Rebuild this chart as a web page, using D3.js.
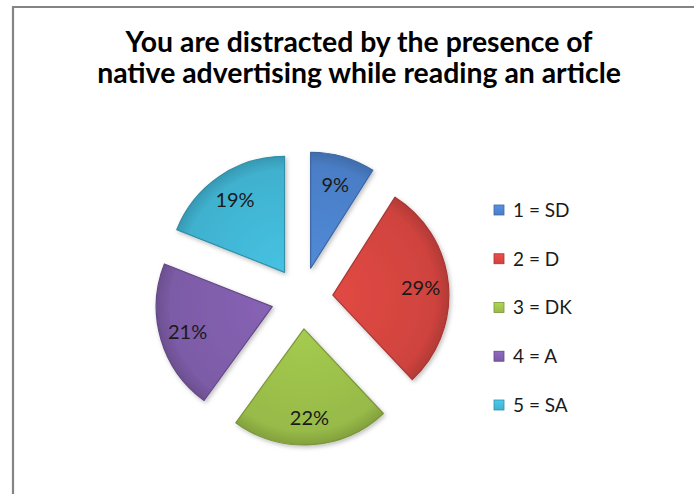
<!DOCTYPE html>
<html lang="en">
<head>
<meta charset="utf-8">
<title>Native advertising pie</title>
<script src="https://cdn.jsdelivr.net/npm/d3@7"></script>
<style>
  body { margin: 0; background: #fff; }
  text { font-family: Lato, "Open Sans", sans-serif; }
</style>
</head>
<body>
<div id="chart"></div>
<script>

// data
var categories = ["1 = SD", "2 = D", "3 = DK", "4 = A", "5 = SA"];
var values = [9, 29, 22, 21, 19];
var colors = ["#4a7ec6", "#cf433e", "#97ba48", "#7c5ba6", "#40b1cf"];
var titleLines = ["You are distracted by the presence of", "native advertising while reading an article"];

var width = 694, height = 494;
var cx = 302, cy = 298, radius = 116, explode = 31;

var svg = d3.select("#chart").append("svg")
    .attr("width", width)
    .attr("height", height);

var defs = svg.append("defs");

// frame (cut off at right and bottom like the picture)
svg.append("path")
    .attr("d", "M13,494 L13,7 L694,7")
    .attr("fill", "none")
    .attr("stroke", "#848484")
    .attr("stroke-width", 2.2);

// title, sized so the long line spans like the original
var title = svg.append("g");
var t2 = title.append("text")
    .attr("x", 359).attr("y", 83)
    .attr("text-anchor", "middle")
    .attr("font-weight", "bold")
    .attr("font-size", 22)
    .attr("fill", "#000")
    .text(titleLines[1]);
var fs = 22 * 524 / t2.node().getComputedTextLength();
t2.attr("font-size", fs);
title.append("text")
    .attr("x", 359).attr("y", 52)
    .attr("text-anchor", "middle")
    .attr("font-weight", "bold")
    .attr("font-size", fs)
    .attr("fill", "#000")
    .text(titleLines[0]);

// gradients and shadow
var shadow = defs.append("filter").attr("id", "shadow")
    .attr("x", "-20%").attr("y", "-20%").attr("width", "140%").attr("height", "140%");
shadow.append("feDropShadow")
    .attr("dx", 1.5).attr("dy", 2).attr("stdDeviation", 2)
    .attr("flood-color", "#000").attr("flood-opacity", 0.25);

colors.forEach(function(c, i) {
  var g = defs.append("radialGradient")
      .attr("id", "grad" + i)
      .attr("gradientUnits", "userSpaceOnUse")
      .attr("cx", 0).attr("cy", 0).attr("r", radius);
  g.append("stop").attr("offset", "0%").attr("stop-color", d3.color(c).brighter(0.25));
  g.append("stop").attr("offset", "88%").attr("stop-color", c);
  g.append("stop").attr("offset", "100%").attr("stop-color", d3.color(c).darker(0.4));
});

var pie = d3.pie().sort(null).value(function(d) { return d; });
var arcs = pie(values);

var arc = d3.arc().innerRadius(0).outerRadius(radius);
var labelArc = d3.arc().innerRadius(radius * 0.76).outerRadius(radius * 0.76);

var pieG = svg.append("g")
    .attr("transform", "translate(" + cx + "," + cy + ")");

var slice = pieG.selectAll("g.slice")
    .data(arcs)
  .enter().append("g")
    .attr("class", "slice")
    .attr("transform", function(d) {
      var a = (d.startAngle + d.endAngle) / 2;
      return "translate(" + (explode * Math.sin(a)) + "," + (-explode * Math.cos(a)) + ")";
    });

slice.append("path")
    .attr("d", arc)
    .attr("fill", function(d, i) { return "url(#grad" + i + ")"; })
    .attr("stroke", function(d, i) { return d3.color(colors[i]).darker(0.6); })
    .attr("stroke-width", 1.2)
    .attr("stroke-linejoin", "round")
    .attr("filter", "url(#shadow)");

slice.append("text")
    .attr("transform", function(d) { return "translate(" + labelArc.centroid(d) + ")"; })
    .attr("text-anchor", "middle")
    .attr("dy", "0.4em")
    .attr("font-size", 20)
    .attr("fill", "#1a1a1a")
    .text(function(d) { return d.data + "%"; });

// legend
var legendY = d3.scalePoint().domain(categories).range([210, 405]);

colors.forEach(function(c, i) {
  var g = defs.append("linearGradient").attr("id", "lg" + i)
      .attr("x1", 0).attr("y1", 0).attr("x2", 0).attr("y2", 1);
  g.append("stop").attr("offset", "0%").attr("stop-color", d3.color(c).brighter(0.4));
  g.append("stop").attr("offset", "100%").attr("stop-color", c);
});

var legend = svg.append("g").selectAll("g")
    .data(categories)
  .enter().append("g")
    .attr("transform", function(d) { return "translate(494," + legendY(d) + ")"; });

legend.append("rect")
    .attr("x", 0).attr("y", -5)
    .attr("width", 10).attr("height", 10)
    .attr("fill", function(d, i) { return "url(#lg" + i + ")"; })
    .attr("stroke", function(d, i) { return d3.color(colors[i]).darker(0.6); })
    .attr("stroke-width", 0.8);

legend.append("text")
    .attr("x", 19).attr("dy", "0.36em")
    .attr("font-size", 19)
    .attr("fill", "#1a1a1a")
    .text(function(d) { return d; });

</script>
</body>
</html>
